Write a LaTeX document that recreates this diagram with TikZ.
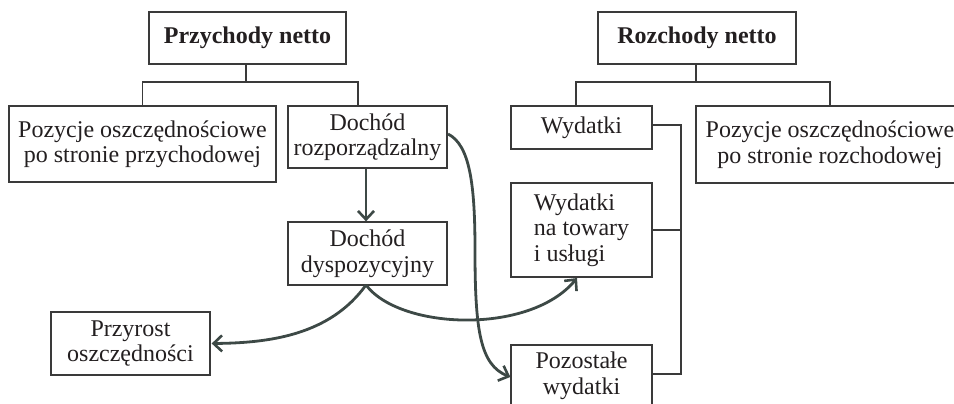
\documentclass[tikz,border=0pt]{standalone}
\usepackage{fontspec}
\setmainfont{Liberation Serif}
\usetikzlibrary{arrows.meta}
\definecolor{boxline}{HTML}{3A3A3A}
\definecolor{arrowc}{HTML}{3D4946}
\definecolor{txt}{HTML}{231F20}
\begin{document}
\begin{tikzpicture}[x=1pt,y=-1pt,
  box/.style={draw=boxline,line width=1.3pt,inner sep=0pt,align=center,text=txt,
    font=\fontsize{24}{25.5}\selectfont},
  title/.style={box,font=\fontsize{24}{25.5}\selectfont\bfseries},
  tree/.style={draw=boxline,line width=1.3pt},
  flow/.style={draw=arrowc,line width=2.8pt,-{Straight Barb[length=8.5pt,width=16pt,line width=2.6pt]}}]
\useasboundingbox (0,0) rectangle (954,404);
\clip (0,0) rectangle (954,404);
% nodes
\node[title,minimum width=197,minimum height=52] (pn) at (247.5,38) {Przychody netto};
\node[title,minimum width=198,minimum height=52] (rn) at (697,38) {Rozchody netto};
\node[box,minimum width=267,minimum height=76] (pl) at (142.5,144) {Pozycje oszczędnościowe\\po stronie przychodowej};
\node[box,minimum width=159,minimum height=62] (dr) at (367.5,137) {Dochód\\rozporządzalny};
\node[box,minimum width=141,minimum height=43] (wy) at (581.5,127.5) {Wydatki};
\node[box,minimum width=268,minimum height=77] (pr) at (830,144.5) {Pozycje oszczędnościowe\\po stronie rozchodowej};
\node[box,align=left,minimum width=141,minimum height=94] (wt) at (581.5,230) {Wydatki\\na towary\\i usługi};
\node[box,minimum width=141,minimum height=62] (ps) at (581.5,376) {Pozostałe\\wydatki};
\node[box,minimum width=159,minimum height=63] (dd) at (367.5,253.5) {Dochód\\dyspozycyjny};
\node[box,minimum width=159,minimum height=63] (po) at (130.5,343.5) {Przyrost\\oszczędności};
% tree connectors
\coordinate (lj) at (246,82);
\coordinate (ld) at (358,106);
\draw[tree] (pn.south -| lj) -- (lj);
\draw[tree] (pl.north) |- (lj) -| (ld);
\coordinate (rj) at (696,82);
\coordinate (rw) at (576,106);
\draw[tree] (rn.south -| rj) -- (rj);
\draw[tree] (rw) |- (rj) -| (pr.north);
\coordinate (bt) at (681,125);
\coordinate (bb) at (681,374);
\draw[tree] (wy.east |- bt) -- (bt) -- (bb) -- (ps.east |- bb);
\draw[tree] (wt.east) -- (wt.east -| bt);
% flows
\draw[flow] (dr.south -| 366,0) -- (dd.north -| 366,0);
\coordinate (dds) at (366,285);
\draw[flow] (dds) .. controls (330,335) and (270,343) .. ([xshift=1pt]po.east);
\coordinate (wtb) at (577,278);
\draw[flow] (dds) .. controls (400,330) and (530,335) .. (wtb);
\coordinate (drr) at (448,134);
\coordinate (mid) at (475,250);
\draw[flow] (drr) .. controls (470,145) and (475,185) .. (mid) .. controls (475,330) and (480,365) .. ([yshift=-1pt]ps.west);
\end{tikzpicture}
\end{document}
